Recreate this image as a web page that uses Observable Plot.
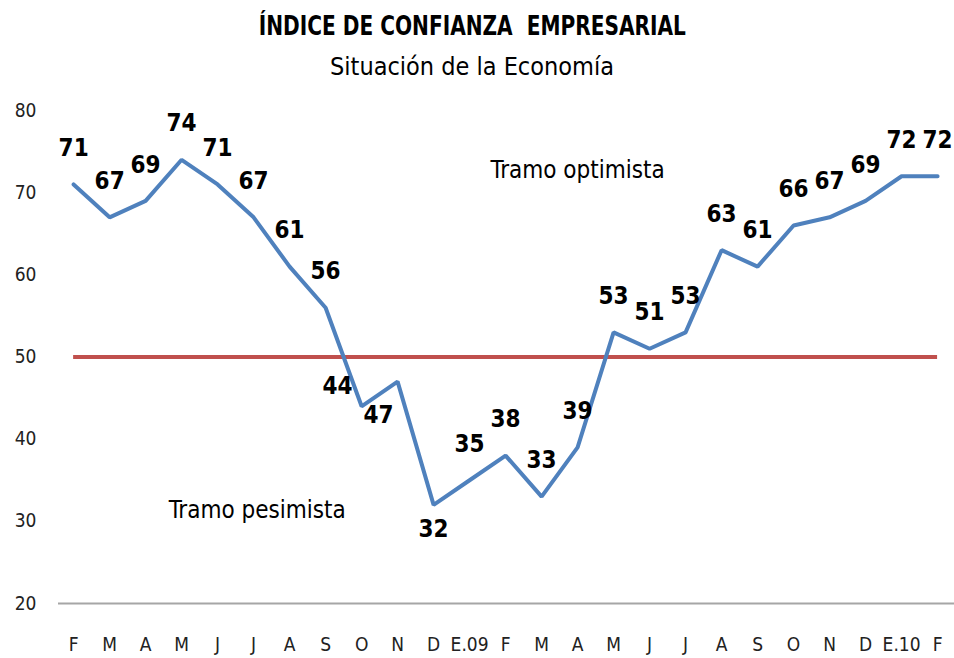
<!DOCTYPE html>
<html>
<head>
<meta charset="utf-8">
<script src="https://cdn.jsdelivr.net/npm/d3@7"></script>
<script src="https://cdn.jsdelivr.net/npm/@observablehq/plot@0.6"></script>
<style>
  body { margin: 0; background: #fff; font-family: "Liberation Sans Narrow", "DejaVu Sans Condensed", sans-serif; }
  #title { height: 50px; line-height: 52px; text-align: center; font-weight: bold; font-size: 26px; padding-right: 10px; }
  #title span { display: inline-block; transform: scaleX(0.86); }
  #subtitle { height: 36px; line-height: 34px; text-align: center; font-size: 25px; padding-right: 10px; }
  #chart svg { display: block; }
</style>
</head>
<body>
<div id="title"><span>ÍNDICE DE CONFIANZA&nbsp; EMPRESARIAL</span></div>
<div id="subtitle">Situación de la Economía</div>
<div id="chart"></div>
<script>
// meses (feb 2008 - feb 2010) y valor del índice
const meses = ["F", "M", "A", "M", "J", "J", "A", "S", "O", "N", "D", "E.09",
  "F", "M", "A", "M", "J", "J", "A", "S", "O", "N", "D", "E.10", "F"]
const valores = [71, 67, 69, 74, 71, 67, 61, 56, 44, 47, 32, 35,
  38, 33, 39, 53, 51, 53, 63, 61, 66, 67, 69, 72, 72]
const umbral = 50
const yTicks = [20, 30, 40, 50, 60, 70, 80]
const notas = [
  {i: 14, v: 72.7, texto: "Tramo optimista"},
  {i: 5.1, v: 31.3, texto: "Tramo pesimista"}
]

const data = valores.map((v, i) => ({i, mes: meses[i], v}))

// etiquetas que Excel colocó fuera de la posición "encima"
const desplazar = {8: [-24, -20], 9: [-19, 34], 10: [0, 24]}

let chart = Plot.plot({
  width: 954,
  height: 572,
  marginLeft: 58,
  marginRight: 0,
  marginTop: 24,
  marginBottom: 55,
  style: {fontFamily: '"Liberation Sans Narrow", "DejaVu Sans Condensed", sans-serif', background: "#fff"},
  x: {domain: [-0.42, 24.47], axis: null},
  y: {domain: [20, 80], axis: null},
  marks: [
    Plot.axisY({ticks: yTicks, tickSize: 0, tickPadding: 22, fontSize: 19, label: null, color: "#222"}),
    Plot.axisX({ticks: d3.range(meses.length), tickFormat: i => meses[i], tickSize: 0, tickPadding: 34, fontSize: 19, label: null, color: "#222"}),
    Plot.ruleY([20], {x1: -0.42, x2: 24.47, stroke: "#a6a6a6", strokeWidth: 2}),
    Plot.ruleY([umbral], {x1: 0, x2: meses.length - 1, stroke: "#c0504d", strokeWidth: 4}),
    Plot.line(data, {x: "i", y: "v", stroke: "#4f81bd", strokeWidth: 4, strokeLinejoin: "miter"}),
    ...data.map(d => {
      const [dx, dy] = desplazar[d.i] || [0, -36]
      return Plot.text([d], {x: "i", y: "v", text: "v", dx, dy, fontSize: 24, fontWeight: "bold", fill: "#000"})
    }),
    Plot.text(notas, {x: "i", y: "v", text: "texto", fontSize: 24, fill: "#000"})
  ]
})
d3.select('#chart').append(() => chart)
</script>
</body>
</html>
